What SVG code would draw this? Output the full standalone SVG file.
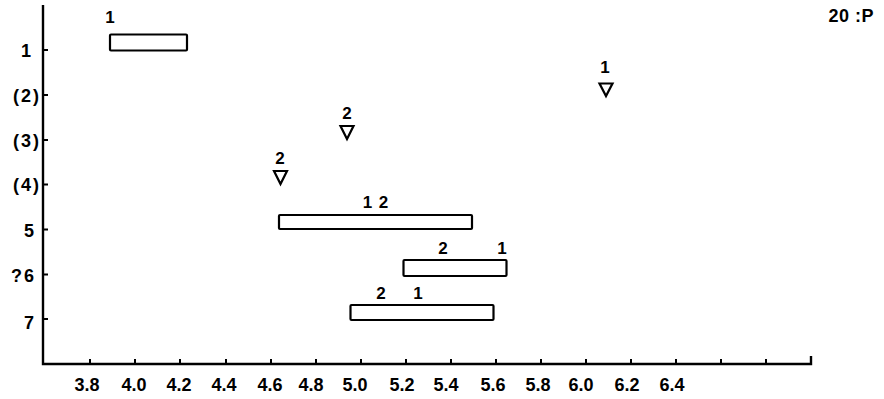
<svg xmlns="http://www.w3.org/2000/svg" width="884" height="399" viewBox="0 0 884 399">
<style>
text{font-family:"Liberation Sans",Arial,sans-serif;font-weight:bold;font-size:18px;fill:#000}
.ax{stroke:#000;stroke-width:2.4;fill:none}
.tk{stroke:#000;stroke-width:2;fill:none}
.bar{fill:#fff;stroke:#000;stroke-width:2.2}
.tri{fill:#fff;stroke:#000;stroke-width:2.2;stroke-linejoin:miter}
.xl{text-anchor:middle}
.yl{text-anchor:end;letter-spacing:2px}
.lb{text-anchor:middle;font-size:17px}
</style>
<rect width="884" height="399" fill="#fff"/>
<g id="axes">
<path class="ax" d="M43,5 V364 H811 V356"/>
<path class="tk" d="M43,50 h5 M43,95 h5 M43,140 h5 M43,184.5 h5 M43,229.5 h5 M43,274.5 h5 M43,319 h5"/>
<path class="tk" d="M90,364 v-5 M135,364 v-5 M180,364 v-5 M226,364 v-5 M271,364 v-5 M316,364 v-5 M361,364 v-5 M406,364 v-5 M451,364 v-5 M496,364 v-5 M541,364 v-5 M586,364 v-5 M631,364 v-5 M676,364 v-5 M721,364 v-5 M766,364 v-5"/>
</g>
<g id="y-labels">
<text class="yl" x="33" y="57">1</text>
<text class="yl" x="41" y="102">(2)</text>
<text class="yl" x="41" y="147">(3)</text>
<text class="yl" x="41" y="191">(4)</text>
<text class="yl" x="36" y="237">5</text>
<text class="yl" x="36" y="282">?6</text>
<text class="yl" x="36" y="329">7</text>
</g>
<g id="x-labels">
<text class="xl" x="87" y="391">3.8</text>
<text class="xl" x="134" y="391">4.0</text>
<text class="xl" x="179" y="391">4.2</text>
<text class="xl" x="224" y="391">4.4</text>
<text class="xl" x="270" y="391">4.6</text>
<text class="xl" x="311" y="391">4.8</text>
<text class="xl" x="355" y="391">5.0</text>
<text class="xl" x="402" y="391">5.2</text>
<text class="xl" x="446" y="391">5.4</text>
<text class="xl" x="493" y="391">5.6</text>
<text class="xl" x="538" y="391">5.8</text>
<text class="xl" x="581" y="391">6.0</text>
<text class="xl" x="627" y="391">6.2</text>
<text class="xl" x="672" y="391">6.4</text>
</g>
<text x="874" y="22" text-anchor="end" letter-spacing="0.5">20 :P</text>
<g id="bar1">
<rect class="bar" x="110" y="34.5" width="77" height="16" rx="1"/>
<text class="lb" x="110" y="23">1</text>
</g>
<g id="tri2">
<text class="lb" x="605" y="73">1</text>
<polygon class="tri" points="599.5,83.5 612.5,83.5 606,96"/>
</g>
<g id="tri3">
<text class="lb" x="347" y="119">2</text>
<polygon class="tri" points="340.5,126 353.5,126 347,139"/>
</g>
<g id="tri4">
<text class="lb" x="280" y="164">2</text>
<polygon class="tri" points="274,171 287,171 280.5,184"/>
</g>
<g id="bar5">
<rect class="bar" x="279" y="215" width="193" height="14" rx="1"/>
<text class="lb" x="376" y="208" letter-spacing="1">1 2</text>
</g>
<g id="bar6">
<rect class="bar" x="403.5" y="260" width="103" height="16" rx="1"/>
<text class="lb" x="443" y="254">2</text>
<text class="lb" x="502" y="254">1</text>
</g>
<g id="bar7">
<rect class="bar" x="350.5" y="305" width="143" height="15" rx="1"/>
<text class="lb" x="381" y="299">2</text>
<text class="lb" x="418" y="299">1</text>
</g>
</svg>
